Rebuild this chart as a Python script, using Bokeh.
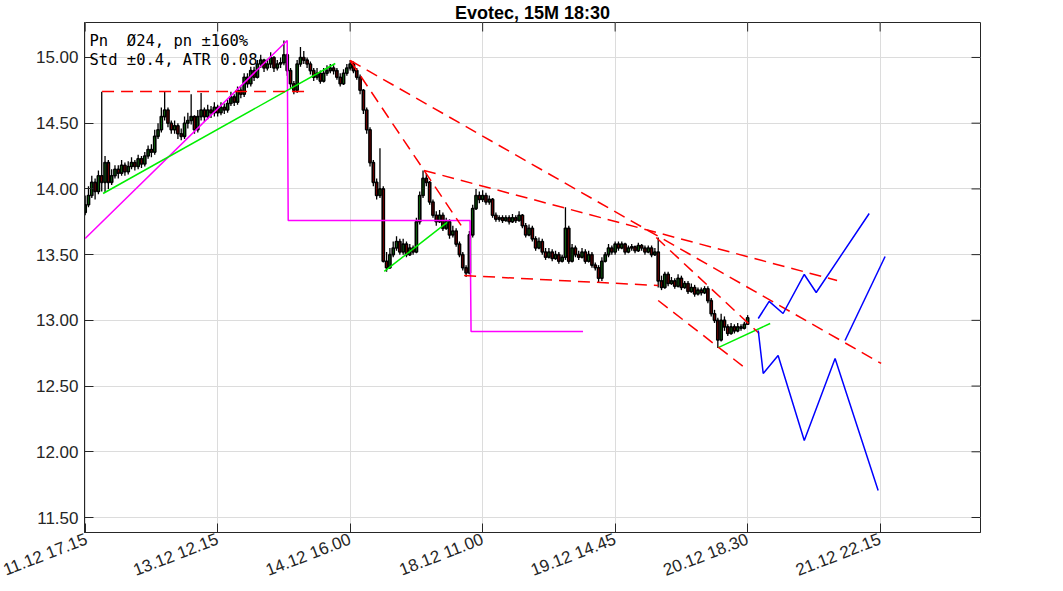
from bokeh.plotting import figure
from bokeh.models import Range1d, FixedTicker, Label, ColumnDataSource, NumeralTickFormatter
from bokeh.embed import file_html
from bokeh.resources import INLINE

# ---------------- data ----------------
closes = [
    13.88, 13.95, 14.05, 13.98, 14.10, 14.05, 14.20, 14.05, 14.10, 14.15,
    14.12, 14.18, 14.13, 14.17, 14.20, 14.17, 14.23, 14.19, 14.25, 14.30,
    14.28, 14.40, 14.45, 14.55, 14.60, 14.50, 14.45, 14.48, 14.42, 14.40,
    14.50, 14.52, 14.55, 14.45, 14.55, 14.60, 14.55, 14.60, 14.58, 14.62,
    14.58, 14.62, 14.60, 14.65, 14.70, 14.66, 14.75, 14.72, 14.85, 14.80,
    14.90, 14.85, 14.95, 14.98, 14.92, 14.95, 15.00, 14.92, 14.95, 14.96,
    15.02, 14.90, 14.80, 14.75, 14.95, 15.00, 14.98, 14.95, 14.90, 14.85,
    14.88, 14.82, 14.88, 14.90, 14.92, 14.90, 14.85, 14.80, 14.88, 14.92,
    14.95, 14.90, 14.85, 14.75, 14.60, 14.45, 14.20, 14.05, 13.95, 14.00,
    13.45, 13.40, 13.50, 13.55, 13.60, 13.52, 13.58, 13.50, 13.55, 13.52,
    13.75, 13.95, 14.08, 14.05, 13.90, 13.80, 13.75, 13.80, 13.70, 13.75,
    13.65, 13.68, 13.58, 13.50, 13.40, 13.36, 13.65, 13.85, 13.95, 13.92,
    13.95, 13.90, 13.92, 13.80, 13.77, 13.78, 13.76, 13.78, 13.75, 13.78,
    13.76, 13.80, 13.72, 13.65, 13.70, 13.62, 13.55, 13.60, 13.52, 13.48,
    13.52, 13.47, 13.50, 13.45, 13.48, 13.70, 13.45, 13.55, 13.50, 13.48,
    13.52, 13.45, 13.50, 13.42, 13.40, 13.32, 13.45, 13.50, 13.55, 13.52,
    13.58, 13.55, 13.58, 13.52, 13.55, 13.56, 13.53, 13.57, 13.55, 13.52,
    13.55, 13.50, 13.52, 13.30, 13.25, 13.35, 13.28, 13.30, 13.26, 13.32,
    13.25, 13.28, 13.22, 13.25, 13.20, 13.23, 13.21, 13.24, 13.15, 13.05,
    13.00, 12.85, 13.00, 12.95, 12.90, 12.95, 12.92, 12.95, 12.94, 12.97,
    13.02,
]
highs = [
    13.95, 14.02, 14.10, 14.08, 14.14, 14.74, 14.25, 14.22, 14.15, 14.18,
    14.18, 14.22, 14.20, 14.21, 14.24, 14.22, 14.26, 14.25, 14.28, 14.33,
    14.34, 14.45, 14.50, 14.62, 14.74, 14.62, 14.52, 14.52, 14.50, 14.46,
    14.55, 14.58, 14.72, 14.56, 14.60, 14.73, 14.62, 14.64, 14.63, 14.66,
    14.64, 14.66, 14.65, 14.68, 14.74, 14.72, 14.78, 14.78, 14.88, 14.88,
    14.93, 14.93, 14.98, 15.02, 14.99, 14.99, 15.04, 15.01, 14.98, 15.00,
    15.13, 15.03, 14.92, 14.82, 14.98, 15.08, 15.05, 15.00, 14.97, 14.92,
    14.92, 14.90, 14.92, 14.94, 14.95, 14.94, 14.92, 14.88, 14.91, 14.95,
    14.98, 14.97, 14.92, 14.87, 14.76, 14.62, 14.47, 14.22, 14.08, 14.31,
    14.02, 13.52, 13.55, 13.60, 13.64, 13.62, 13.62, 13.60, 13.58, 13.57,
    13.78, 13.98, 14.14, 14.12, 14.06, 13.92, 13.83, 13.84, 13.82, 13.78,
    13.77, 13.72, 13.70, 13.60, 13.52, 13.42, 13.68, 13.88, 14.00, 13.98,
    13.99, 13.97, 13.95, 13.93, 13.82, 13.80, 13.80, 13.80, 13.80, 13.81,
    13.80, 13.83, 13.81, 13.74, 13.73, 13.72, 13.64, 13.63, 13.62, 13.55,
    13.55, 13.54, 13.53, 13.52, 13.50, 13.86, 13.72, 13.58, 13.57, 13.53,
    13.55, 13.54, 13.53, 13.52, 13.44, 13.42, 13.48, 13.52, 13.58, 13.57,
    13.60, 13.60, 13.60, 13.59, 13.57, 13.58, 13.57, 13.59, 13.58, 13.57,
    13.57, 13.57, 13.55, 13.63, 13.34, 13.37, 13.37, 13.33, 13.32, 13.35,
    13.34, 13.30, 13.30, 13.28, 13.27, 13.25, 13.25, 13.26, 13.26, 13.17,
    13.08, 13.02, 13.05, 13.03, 12.97, 12.98, 12.97, 12.98, 12.97, 12.99,
    13.04,
]
lows = [
    13.80, 13.86, 13.93, 13.92, 13.96, 13.98, 13.97, 14.00, 14.03, 14.08,
    14.08, 14.10, 14.10, 14.11, 14.15, 14.14, 14.15, 14.16, 14.17, 14.23,
    14.24, 14.26, 14.38, 14.43, 14.52, 14.47, 14.42, 14.42, 14.38, 14.37,
    14.38, 14.46, 14.49, 14.42, 14.43, 14.52, 14.51, 14.53, 14.54, 14.55,
    14.55, 14.56, 14.57, 14.58, 14.63, 14.63, 14.64, 14.69, 14.70, 14.77,
    14.78, 14.82, 14.84, 14.92, 14.89, 14.90, 14.92, 14.89, 14.90, 14.92,
    14.94, 14.86, 14.77, 14.72, 14.73, 14.93, 14.95, 14.92, 14.87, 14.82,
    14.83, 14.80, 14.81, 14.86, 14.88, 14.87, 14.83, 14.78, 14.79, 14.86,
    14.90, 14.88, 14.83, 14.72, 14.57, 14.42, 14.17, 14.02, 13.92, 13.93,
    13.44, 13.37, 13.39, 13.48, 13.53, 13.50, 13.50, 13.48, 13.49, 13.50,
    13.51, 13.73, 13.93, 14.02, 13.88, 13.78, 13.72, 13.74, 13.68, 13.69,
    13.62, 13.63, 13.56, 13.48, 13.38, 13.33, 13.35, 13.63, 13.84, 13.89,
    13.90, 13.88, 13.88, 13.78, 13.75, 13.75, 13.74, 13.75, 13.73, 13.74,
    13.74, 13.75, 13.70, 13.63, 13.64, 13.60, 13.53, 13.54, 13.50, 13.46,
    13.47, 13.45, 13.46, 13.43, 13.44, 13.46, 13.43, 13.44, 13.48, 13.46,
    13.47, 13.43, 13.44, 13.40, 13.38, 13.29, 13.30, 13.44, 13.48, 13.50,
    13.50, 13.53, 13.54, 13.50, 13.51, 13.53, 13.51, 13.52, 13.53, 13.50,
    13.51, 13.48, 13.49, 13.25, 13.23, 13.24, 13.26, 13.27, 13.24, 13.25,
    13.23, 13.24, 13.20, 13.21, 13.18, 13.19, 13.19, 13.20, 13.13, 13.03,
    12.98, 12.79, 12.84, 12.92, 12.88, 12.89, 12.90, 12.91, 12.92, 12.93,
    12.97,
]
first_open = 13.82

x_tick_pos = [0, 40, 80, 120, 160, 200, 240]
x_tick_labels = ["11.12 17.15", "13.12 12.15", "14.12 16.00", "18.12 11.00",
                 "19.12 14.45", "20.12 18.30", "21.12 22.15"]
y_ticks = [11.5, 12.0, 12.5, 13.0, 13.5, 14.0, 14.5, 15.0]

# magenta step line
magenta_x = [0.0, 61.0, 61.3, 116.2, 116.5, 150.3]
magenta_y = [13.623, 15.129, 13.760, 13.760, 12.915, 12.915]

# green support lines
green_x0 = [5.4, 90.3, 191.1]
green_y0 = [13.965, 13.372, 12.793]
green_x1 = [75.5, 109.3, 206.8]
green_y1 = [14.954, 13.745, 12.976]

# red dashed trend lines
red_x0 = [5.1, 80.0, 80.0, 102.3, 114.4, 173.0, 172.4]
red_y0 = [14.741, 14.977, 14.977, 14.140, 13.341, 13.151, 13.630]
red_x1 = [66.7, 113.5, 240.3, 227.0, 173.0, 200.2, 203.5]
red_y1 = [14.741, 13.722, 12.672, 13.303, 13.265, 12.619, 12.900]

# blue forecast paths
blue1_x = [203.2, 206.5, 210.7, 217.1, 220.7, 236.7]
blue1_y = [13.014, 13.144, 13.052, 13.349, 13.212, 13.813]
blue2_x = [203.2, 204.7, 209.2, 217.1, 226.4, 239.4]
blue2_y = [12.923, 12.596, 12.733, 12.086, 12.710, 11.706]
blue3_x = [229.4, 241.5]
blue3_y = [12.847, 13.486]

title_text = "Evotec, 15M 18:30"
info_line1 = "Pn\u00a0\u00a0\u00d824, pn \u00b1160%"
info_line2 = "Std \u00b10.4, ATR 0.08"

# ---------------- build ----------------
X0, X1 = -0.2, 270.3
Y0, Y1 = 11.386, 15.266
W, H = 1063, 591
BL, BR, BT, BB = 84, 83, 22, 59
FW, FH = W - BL - BR, H - BT - BB

opens = [first_open] + closes[:-1]
bars = list(range(len(closes)))
tops = [max(o, c) for o, c in zip(opens, closes)]
bots = [min(o, c) for o, c in zip(opens, closes)]
hi = [max(h, t) for h, t in zip(highs, tops)]
lo = [min(l, b) for l, b in zip(lows, bots)]
fills = ["#169e16" if c >= o else "#b80000" for o, c in zip(opens, closes)]

src = ColumnDataSource(dict(x=bars, top=tops, bottom=bots, hi=hi, lo=lo, fill=fills))

AX = "#262626"
FONT = "Liberation Sans"

p = figure(width=W, height=H, output_backend="svg", toolbar_location=None,
           x_range=Range1d(X0, X1), y_range=Range1d(Y0, Y1),
           min_border_left=BL, min_border_right=BR, min_border_top=BT, min_border_bottom=BB)
p.background_fill_color = "white"
p.border_fill_color = "white"
p.outline_line_color = AX
p.outline_line_width = 1

p.title.text = title_text
p.title.align = "center"
p.title.text_font = FONT
p.title.text_font_style = "bold"
p.title.text_font_size = "18px"
p.title.text_color = "black"
p.title.standoff = 0
p.title.offset = 0

# grid
p.xgrid.ticker = FixedTicker(ticks=x_tick_pos)
p.ygrid.ticker = FixedTicker(ticks=y_ticks)
for g in (p.xgrid, p.ygrid):
    g.grid_line_color = "#dcdcdc"
    g.grid_line_width = 1

# axes
p.xaxis.ticker = FixedTicker(ticks=x_tick_pos)
p.xaxis.major_label_overrides = {t: l for t, l in zip(x_tick_pos, x_tick_labels)}
p.xaxis.major_label_orientation = 0.37
p.yaxis.ticker = FixedTicker(ticks=y_ticks)
p.yaxis.formatter = NumeralTickFormatter(format="0.00")
for ax in (p.xaxis, p.yaxis):
    ax.major_tick_in = 9
    ax.major_tick_out = 0
    ax.minor_tick_line_color = None
    ax.axis_line_color = AX
    ax.major_tick_line_color = AX
    ax.major_label_text_color = AX
    ax.major_label_text_font = FONT
    ax.major_label_text_font_size = "17px"
p.xaxis.major_label_standoff = 6
p.yaxis.major_label_standoff = 6

# inward tick marks on top and right edges (box style)
tdx = 9 * (X1 - X0) / FW
tdy = 9 * (Y1 - Y0) / FH
p.segment(x0=x_tick_pos, y0=[Y1] * len(x_tick_pos), x1=x_tick_pos, y1=[Y1 - tdy] * len(x_tick_pos),
          line_color=AX, line_width=1)
p.segment(x0=[X1] * len(y_ticks), y0=y_ticks, x1=[X1 - tdx] * len(y_ticks), y1=y_ticks,
          line_color=AX, line_width=1)

# candles
p.segment(x0="x", y0="lo", x1="x", y1="hi", source=src, line_color="black", line_width=1.3)
p.vbar(x="x", width=0.65, top="top", bottom="bottom", source=src,
       fill_color="fill", line_color="black", line_width=1.6)

# overlay lines
p.line(magenta_x, magenta_y, line_color="#ff00ff", line_width=1.5)
p.segment(x0=green_x0, y0=green_y0, x1=green_x1, y1=green_y1, line_color="#00ee00", line_width=1.5)
p.segment(x0=red_x0, y0=red_y0, x1=red_x1, y1=red_y1, line_color="#ff0000",
          line_width=1.5, line_dash="12 7")
p.multi_line(xs=[blue1_x, blue2_x, blue3_x], ys=[blue1_y, blue2_y, blue3_y],
             line_color="#0000ff", line_width=1.5)

# info texts
p.add_layout(Label(x=X0, y=Y1, x_offset=5, y_offset=-18, text=info_line1,
                   text_align="left", text_baseline="alphabetic", text_font="DejaVu Sans Mono",
                   text_font_size="15.5px", text_color="black"))
p.add_layout(Label(x=X0, y=Y1, x_offset=5, y_offset=-37.5, text=info_line2,
                   text_align="left", text_baseline="alphabetic", text_font="DejaVu Sans Mono",
                   text_font_size="15.5px", text_color="black"))

open("out.html", "w").write(file_html(p, INLINE))
